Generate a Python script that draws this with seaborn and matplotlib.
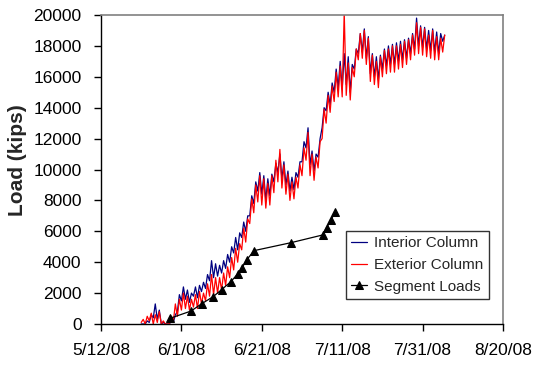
import numpy as np
import pandas as pd
import matplotlib
matplotlib.use("Agg")
import matplotlib.pyplot as plt
import matplotlib.dates as mdates
from matplotlib.ticker import FuncFormatter
import seaborn as sns

### data ###
# column loads: two readings per day (night, day), first reading on 5/22/08
col_start = "2008-05-22"
interior_load = [
    0, 0, 0, 200, 100, 600, 400, 1300, 300, 900, 0, 100, 0, 0, 0, 200,
    100, 600, 800, 1900, 1500, 2400, 1600, 2200, 1400, 2000, 1800, 2400,
    1700, 2500, 2100, 2700, 2300, 3200, 2800, 4100, 3000, 3900, 3100, 3800,
    3300, 4100, 3600, 4500, 4000, 5000, 4600, 5600, 4800, 5900, 5600, 6600,
    6000, 7000, 7000, 8300, 7800, 9200, 8600, 9800, 8400, 9600, 8000, 9400,
    8300, 9700, 9200, 10400, 9800, 11000, 9400, 10500, 9000, 9900, 8600, 9500,
    8700, 9800, 9500, 10500, 10500, 11800, 11400, 12700, 10300, 11200, 9900, 11000,
    10800, 12000, 12700, 14000, 13800, 15000, 14200, 15600, 15000, 16500, 15300, 17000,
    15200, 17500, 15500, 17300, 15000, 16800, 16500, 17800, 17500, 18800, 17600, 19100,
    17200, 18600, 16200, 17500, 16000, 17300, 15800, 17400, 16500, 17800, 16700, 18000,
    16800, 18100, 16800, 18200, 17000, 18300, 17100, 18400, 17200, 18500, 17500, 18800,
    17800, 19800, 18000, 19300, 17900, 19200, 17800, 19000, 17700, 19100, 17600, 18900,
    17500, 18800, 18300, 18700,
]
exterior_load = [
    100, 300, 0, 500, 200, 700, 0, 600, 100, 800, 0, 200, 0, 0, 0, 500,
    200, 1300, 500, 1600, 900, 2000, 1000, 1800, 900, 1600, 1100, 1900,
    1000, 2100, 1300, 2000, 1500, 2600, 1800, 3200, 1900, 3000, 2000, 3000,
    2200, 3300, 2500, 3700, 3000, 4300, 3500, 4900, 4000, 5200, 4800, 6200,
    5300, 6800, 6500, 8100, 7200, 9000, 7900, 9600, 7700, 9400, 7500, 9100,
    7700, 9600, 8500, 10600, 9200, 11300, 8800, 10300, 8400, 9700, 8000, 9200,
    8100, 9500, 8800, 10300, 9600, 11400, 10600, 12400, 9600, 11000, 9300, 10800,
    10100, 11800, 12000, 13900, 13000, 14800, 13700, 15400, 14400, 16300, 14700, 16700,
    14700, 20200, 14800, 16900, 14500, 16600, 16000, 17800, 17100, 18800, 17200, 19000,
    16800, 18500, 15700, 17400, 15500, 17000, 15300, 17300, 16000, 17700, 16200, 17800,
    16300, 18000, 16300, 18000, 16500, 18100, 16600, 18300, 16800, 18400, 17100, 18700,
    17400, 19500, 17500, 19200, 17400, 19100, 17300, 18700, 17200, 19000, 17100, 18600,
    17100, 18500, 17600, 18700,
]

# segment loads (days after 5/12/08, kips)
seg_day = [17.2, 22.4, 25.1, 27.9, 30.0, 32.3, 34.0, 35.1, 36.2, 38.1,
           47.2, 55.1, 56.1, 57.2, 58.3]
seg_load = [370, 840, 1320, 1770, 2220, 2740, 3240, 3640, 4140, 4750,
            5260, 5760, 6230, 6730, 7270]

xtick_dates = ["2008-05-12", "2008-06-01", "2008-06-21",
               "2008-07-11", "2008-07-31", "2008-08-20"]
yticks = list(range(0, 20001, 2000))

### build frames ###
t0 = pd.Timestamp("2008-05-12")
col_time = pd.date_range(col_start, periods=len(interior_load), freq="12h")
col_df = pd.DataFrame({
    "time": col_time,
    "Interior Column": interior_load,
    "Exterior Column": exterior_load,
})
seg_df = pd.DataFrame({
    "time": t0 + pd.to_timedelta(seg_day, unit="D"),
    "load": seg_load,
})

### figure ###
sns.set_style("white")
plt.rcParams["font.family"] = ["Liberation Sans", "DejaVu Sans"]

fig = plt.figure(figsize=(5.42, 3.73), dpi=100)
ax = fig.add_axes([101/542, 1 - 324/373, 402/542, 309/373])

sns.lineplot(data=col_df, x="time", y="Interior Column", color="#000080",
             lw=0.9, estimator=None, sort=False, label="Interior Column", ax=ax)
sns.lineplot(data=col_df, x="time", y="Exterior Column", color="#ff0000",
             lw=0.9, estimator=None, sort=False, label="Exterior Column", ax=ax)
sns.lineplot(data=seg_df, x="time", y="load", color="black", lw=0.9,
             marker="^", markersize=5.5, markeredgecolor="black",
             estimator=None, label="Segment Loads", ax=ax)

xt = pd.to_datetime(xtick_dates)
ax.set_xlim(xt[0], xt[-1])
ax.set_xticks(xt)
ax.xaxis.set_major_formatter(FuncFormatter(
    lambda v, pos: (lambda d: f"{d.month}/{d.day}/{d:%y}")(mdates.num2date(v))))
ax.set_ylim(0, 20000)
ax.set_yticks(yticks)

ax.tick_params(axis="x", direction="out", length=5, width=1, pad=9,
               labelsize=12.5, bottom=True, colors="black")
ax.tick_params(axis="y", direction="out", length=5, width=1, pad=9,
               labelsize=12.5, left=True, colors="black")

for side in ["left", "bottom"]:
    ax.spines[side].set_color("black")
    ax.spines[side].set_linewidth(1)
for side in ["top", "right"]:
    ax.spines[side].set_color("#808080")
    ax.spines[side].set_linewidth(1.2)

ax.set_xlabel("")
ax.set_ylabel("Load (kips)", fontsize=15, fontweight="bold")
ax.yaxis.set_label_coords(-0.185, 0.53)

leg = ax.legend(loc="lower right", bbox_to_anchor=(0.965, 0.081),
                borderaxespad=0, frameon=True, fancybox=False, fontsize=11,
                handlelength=1.0, handletextpad=0.5, labelspacing=0.5,
                borderpad=0.35, edgecolor="black")
leg.get_frame().set_linewidth(1)

fig.savefig("out.png", dpi=100)
